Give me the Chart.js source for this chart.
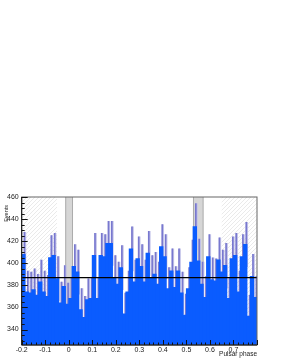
<!DOCTYPE html>
<html lang="en">
<head>
<meta charset="UTF-8" />
<title>Pulsar phaseogram</title>
<script src="https://cdn.jsdelivr.net/npm/chart.js"></script>
<style>
    html, body { margin: 0; padding: 0; background: #fff; }
</style>
</head>
<body>
<canvas id="phaseChart" width="293" height="363"></canvas>
<script>
    // phase range and histogram contents (70 bins)
    const phaseMin = -0.2;
    const phaseMax = 0.8;
    const counts = [
        408, 374, 373, 376, 371, 383, 374, 370, 405, 407,
        386, 364, 379, 363, 368, 397, 392, 358, 351, 367,
        368, 407, 368, 407, 406, 418, 418, 387, 381, 396,
        354, 374, 413, 383, 404, 397, 383, 409, 387, 390,
        381, 415, 406, 377, 393, 378, 393, 373, 353, 377,
        401, 433, 402, 381, 369, 406, 385, 384, 403, 392,
        398, 368, 404, 407, 374, 406, 417, 352, 388, 369
    ];
    const countErrors = [
        20, 19, 19, 19, 19, 20, 19, 19, 20, 20,
        20, 19, 19, 19, 19, 20, 20, 19, 19, 19,
        19, 20, 19, 20, 20, 20, 20, 20, 20, 20,
        19, 19, 20, 20, 20, 20, 20, 20, 20, 20,
        20, 20, 20, 19, 20, 19, 20, 19, 19, 19,
        20, 21, 20, 20, 19, 20, 20, 20, 20, 20,
        20, 19, 20, 20, 19, 20, 20, 19, 20, 19
    ];
    const meanLevel = 387;
    const offPulse = [[-0.2, -0.05], [0.65, 0.8]];
    const peakBands = [[-0.013, 0.016], [0.53, 0.571]];

    const xTicks = [-0.2, -0.1, 0, 0.1, 0.2, 0.3, 0.4, 0.5, 0.6, 0.7];
    const xTickLabels = ['-0.2', '-0.1', '0', '0.1', '0.2', '0.3', '0.4', '0.5', '0.6', '0.7'];
    const yTicks = [340, 360, 380, 400, 420, 440, 460];
    const yMin = 326;
    const yMax = 460;

    const binWidth = (phaseMax - phaseMin) / counts.length;
    const fontFamily = '"Liberation Sans", Arial, sans-serif';

    function hatchPattern(ctx) {
        const c = document.createElement('canvas');
        c.width = 4; c.height = 4;
        const p = c.getContext('2d');
        p.strokeStyle = '#dcdcdc';
        p.lineWidth = 0.6;
        p.beginPath();
        p.moveTo(-1, 5); p.lineTo(5, -1);
        p.stroke();
        return ctx.createPattern(c, 'repeat');
    }

    // ROOT-like frame: shaded regions behind, inward ticks on top
    const phaseFrame = {
        id: 'phaseFrame',
        beforeDatasetsDraw(chart) {
            const { ctx, chartArea: a, scales: { x } } = chart;
            ctx.save();
            ctx.fillStyle = hatchPattern(ctx);
            offPulse.forEach(([lo, hi]) => {
                const x0 = x.getPixelForValue(lo), x1 = x.getPixelForValue(hi);
                ctx.fillRect(x0, a.top, x1 - x0, a.bottom - a.top);
            });
            peakBands.forEach(([lo, hi]) => {
                const x0 = x.getPixelForValue(lo), x1 = x.getPixelForValue(hi);
                ctx.fillStyle = '#d6d6d6';
                ctx.fillRect(x0, a.top, x1 - x0, a.bottom - a.top);
                ctx.strokeStyle = '#ababab';
                ctx.lineWidth = 1;
                ctx.beginPath();
                ctx.moveTo(x0, a.top); ctx.lineTo(x0, a.bottom);
                ctx.moveTo(x1, a.top); ctx.lineTo(x1, a.bottom);
                ctx.stroke();
            });
            ctx.restore();
        },
        afterDatasetsDraw(chart) {
            const { ctx, chartArea: a, scales: { x, y } } = chart;
            ctx.save();
            ctx.strokeStyle = '#666';
            ctx.lineWidth = 1;
            ctx.strokeRect(a.left, a.top, a.right - a.left, a.bottom - a.top);
            ctx.strokeStyle = '#111';
            ctx.beginPath();
            ctx.moveTo(a.left, a.top); ctx.lineTo(a.left, a.bottom); ctx.lineTo(a.right, a.bottom);
            for (let v = 330; v <= yMax; v += 5) {
                const py = Math.round(y.getPixelForValue(v)) + 0.5;
                const len = v % 20 === 0 ? 6 : 3;
                ctx.moveTo(a.left, py); ctx.lineTo(a.left + len, py);
            }
            for (let k = 0; k <= 50; k++) {
                const v = phaseMin + k * 0.02;
                const px = Math.round(x.getPixelForValue(v)) + 0.5;
                const len = k % 5 === 0 ? 5 : 2.5;
                ctx.moveTo(px, a.bottom); ctx.lineTo(px, a.bottom - len);
            }
            ctx.stroke();
            // y axis title
            ctx.fillStyle = '#222';
            ctx.font = '5.5px ' + fontFamily;
            ctx.textAlign = 'right';
            ctx.textBaseline = 'middle';
            ctx.translate(6.8, a.top + 8);
            ctx.rotate(-Math.PI / 2);
            ctx.fillText('Events', 0, 0);
            ctx.restore();
        }
    };

    const leftEdges = counts.map((_, i) => phaseMin + i * binWidth);
    const errRange = (c, i) => [c - countErrors[i], c + countErrors[i]];

    new Chart(document.getElementById('phaseChart'), {
        type: 'bar',
        data: {
            datasets: [
                {
                    type: 'line',
                    label: 'mean',
                    data: [{ x: phaseMin, y: meanLevel }, { x: phaseMax, y: meanLevel }],
                    borderColor: '#000',
                    borderWidth: 1.3,
                    pointRadius: 0,
                    xAxisID: 'x',
                    order: 1
                },
                {
                    label: 'counts',
                    data: counts.map((c, i) => ({ x: leftEdges[i] + binWidth / 2, y: c })),
                    backgroundColor: '#0a5cff',
                    borderWidth: 0,
                    inflateAmount: 0.5,
                    grouped: false,
                    barPercentage: 1,
                    categoryPercentage: 1,
                    xAxisID: 'x',
                    order: 2
                },
                {
                    label: 'error line',
                    data: counts.map((c, i) => ({ x: leftEdges[i] + binWidth * 0.8, y: errRange(c, i) })),
                    backgroundColor: '#7878cf',
                    borderWidth: 0,
                    grouped: false,
                    barThickness: 1,
                    xAxisID: 'xl',
                    order: 3
                },
                {
                    label: 'error shadow',
                    data: counts.map((c, i) => ({ x: leftEdges[i] + binWidth * 1.05, y: errRange(c, i) })),
                    backgroundColor: '#c2c2e8',
                    borderWidth: 0,
                    grouped: false,
                    barThickness: 1.3,
                    xAxisID: 'xe',
                    order: 4
                }
            ]
        },
        options: {
            responsive: false,
            devicePixelRatio: 1,
            animation: false,
            layout: { padding: { top: 197, right: 36, left: 0, bottom: 0 } },
            plugins: { legend: { display: false }, tooltip: { enabled: false } },
            scales: {
                x: {
                    type: 'linear',
                    min: phaseMin,
                    max: phaseMax,
                    offset: false,
                    grid: { display: false, drawTicks: false },
                    border: { display: false },
                    afterBuildTicks: s => { s.ticks = xTicks.map(v => ({ value: v })); },
                    afterFit: s => { s.height = 18; },
                    ticks: {
                        autoSkip: false,
                        maxRotation: 0,
                        padding: 1,
                        color: '#222',
                        font: { family: fontFamily, size: 7 },
                        callback: (v, i) => xTickLabels[i]
                    },
                    title: {
                        display: true,
                        text: 'Pulsar phase',
                        align: 'end',
                        color: '#222',
                        font: { family: fontFamily, size: 6.5 },
                        padding: { top: 0, bottom: 4.5 }
                    }
                },
                xl: { type: 'linear', axis: 'x', display: false, min: phaseMin, max: phaseMax, offset: false },
                xe: { type: 'linear', axis: 'x', display: false, min: phaseMin, max: phaseMax, offset: false },
                y: {
                    min: yMin,
                    max: yMax,
                    beginAtZero: false,
                    grid: { display: false, drawTicks: false },
                    border: { display: false },
                    afterBuildTicks: s => { s.ticks = yTicks.map(v => ({ value: v })); },
                    afterFit: s => { s.width = 21.7; },
                    ticks: {
                        padding: 3,
                        color: '#222',
                        font: { family: fontFamily, size: 7 }
                    }
                }
            }
        },
        plugins: [phaseFrame]
    });
</script>
</body>
</html>
